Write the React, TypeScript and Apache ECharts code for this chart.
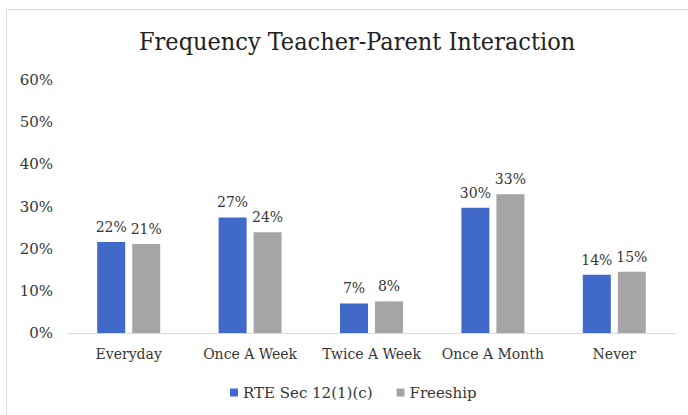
import React, { useEffect, useRef } from "react";
import * as echarts from "echarts";

const categories = ["Everyday", "Once A Week", "Twice A Week", "Once A Month", "Never"];
const rteValues = [21.6, 27.4, 7.0, 29.7, 13.8];
const freeshipValues = [21.1, 23.9, 7.5, 32.9, 14.5];
const seriesNames = ["RTE Sec 12(1)(c)", "Freeship"];
const yTicks = [0, 10, 20, 30, 40, 50, 60];

const FONT = "'DejaVu Serif', serif";
const TITLE_FONT = "'DejaVu Serif Condensed', 'DejaVu Serif', serif";
const TEXT = "#363636";

export default function App() {
  const ref = useRef<HTMLDivElement>(null);
  useEffect(() => {
    if (!ref.current) return;
    const chart = echarts.init(ref.current, undefined, { renderer: "svg" });
    const label = {
      show: true,
      position: "top",
      distance: 8,
      fontFamily: FONT,
      fontSize: 14,
      color: TEXT,
      formatter: (p: any) => `${Math.round(p.value)}%`,
    };
    chart.setOption({
      animation: false,
      backgroundColor: "#fff",
      title: {
        text: "Frequency Teacher-Parent Interaction",
        left: 134,
        top: 24,
        textStyle: { fontFamily: TITLE_FONT, fontSize: 25, fontWeight: "normal", color: "#222" },
      },
      graphic: [
        {
          type: "rect",
          shape: { x: 6.5, y: 9.5, width: 700, height: 420 },
          style: { fill: "none", stroke: "#d9d9d9", lineWidth: 1 },
          silent: true,
        },
      ],
      legend: {
        bottom: 10,
        left: 225,
        itemWidth: 8,
        itemHeight: 8,
        itemGap: 24,
        icon: "rect",
        textStyle: { fontFamily: FONT, fontSize: 15, color: TEXT },
        data: seriesNames,
      },
      grid: { left: 68, right: 13, top: 80, bottom: 82, containLabel: false },
      xAxis: {
        type: "category",
        data: categories,
        axisLine: { lineStyle: { color: "#d9d9d9" } },
        axisTick: { show: false },
        axisLabel: { fontFamily: FONT, fontSize: 14, color: TEXT, margin: 14, interval: 0 },
      },
      yAxis: {
        type: "value",
        min: yTicks[0],
        max: yTicks[yTicks.length - 1],
        interval: 10,
        splitLine: { show: false },
        axisLine: { show: false },
        axisTick: { show: false },
        axisLabel: {
          fontFamily: FONT,
          fontSize: 15,
          color: TEXT,
          margin: 15,
          formatter: (v: number) => `${v}%`,
        },
      },
      series: [
        {
          name: seriesNames[0],
          type: "bar",
          data: rteValues,
          barWidth: 28,
          barGap: "25%",
          itemStyle: { color: "#4169C9" },
          label,
        },
        {
          name: seriesNames[1],
          type: "bar",
          data: freeshipValues,
          barWidth: 28,
          itemStyle: { color: "#A5A5A5" },
          label,
        },
      ],
    });
    return () => chart.dispose();
  }, []);
  return (
    <div
      ref={ref}
      style={{ position: "fixed", left: 0, top: 0, width: 688, height: 415 }}
    />
  );
}
